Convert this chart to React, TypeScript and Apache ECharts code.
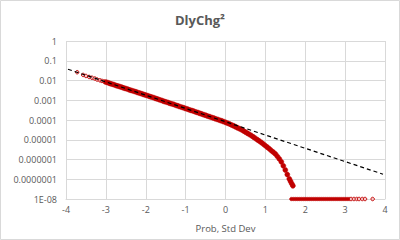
import React, { useEffect, useRef } from "react";
import * as echarts from "echarts";

const yTickLabels = ["1E-08", "0.0000001", "0.000001", "0.00001", "0.0001", "0.001", "0.01", "0.1", "1"];
const xTickLabels = ["-4", "-3", "-2", "-1", "0", "1", "2", "3", "4"];

// sparse tail points on the left (drawn as open markers)
const tailLeftX = [-3.72, -3.57, -3.5, -3.42, -3.35, -3.28, -3.22, -3.15, -3.1, -3.05];
const tailLeftY = [2.63e-2, 1.91e-2, 1.7e-2, 1.51e-2, 1.38e-2, 1.26e-2, 1.12e-2, 1.02e-2, 9.55e-3, 8.91e-3];

// dense body of the curve
const curveX = [
  -3.0, -2.95, -2.9, -2.85, -2.8, -2.75, -2.7, -2.65, -2.6, -2.55,
  -2.5, -2.45, -2.4, -2.35, -2.3, -2.25, -2.2, -2.15, -2.1, -2.05,
  -2.0, -1.95, -1.9, -1.85, -1.8, -1.75, -1.7, -1.65, -1.6, -1.55,
  -1.5, -1.45, -1.4, -1.35, -1.3, -1.25, -1.2, -1.15, -1.1, -1.05,
  -1.0, -0.95, -0.9, -0.85, -0.8, -0.75, -0.7, -0.65, -0.6, -0.55,
  -0.5, -0.45, -0.4, -0.35, -0.3, -0.25, -0.2, -0.15, -0.1, -0.05,
  0.0, 0.05, 0.1, 0.15, 0.2, 0.25, 0.3, 0.35, 0.4, 0.45,
  0.5, 0.55, 0.6, 0.65, 0.7, 0.75, 0.8, 0.85, 0.9, 0.95,
  1.0, 1.05, 1.1, 1.15, 1.2, 1.25, 1.3, 1.35, 1.4, 1.45,
  1.5, 1.55, 1.6, 1.63, 1.66, 1.69,
];
const curveY = [
  8.32e-3, 7.76e-3, 7.08e-3, 6.61e-3, 6.17e-3, 5.62e-3, 5.25e-3, 4.9e-3, 4.57e-3, 4.17e-3,
  3.89e-3, 3.63e-3, 3.31e-3, 3.09e-3, 2.88e-3, 2.69e-3, 2.45e-3, 2.29e-3, 2.14e-3, 1.95e-3,
  1.82e-3, 1.7e-3, 1.55e-3, 1.45e-3, 1.35e-3, 1.23e-3, 1.15e-3, 1.05e-3, 9.77e-4, 8.91e-4,
  8.32e-4, 7.76e-4, 7.08e-4, 6.61e-4, 6.17e-4, 5.62e-4, 5.25e-4, 4.79e-4, 4.47e-4, 4.17e-4,
  3.8e-4, 3.55e-4, 3.24e-4, 3.02e-4, 2.82e-4, 2.57e-4, 2.4e-4, 2.19e-4, 2.04e-4, 1.86e-4,
  1.74e-4, 1.58e-4, 1.48e-4, 1.35e-4, 1.26e-4, 1.15e-4, 1.07e-4, 9.77e-5, 9.12e-5, 8.32e-5,
  7.59e-5, 6.92e-5, 6.31e-5, 5.62e-5, 5.13e-5, 4.57e-5, 4.07e-5, 3.63e-5, 3.24e-5, 2.82e-5,
  2.45e-5, 2.14e-5, 1.86e-5, 1.62e-5, 1.38e-5, 1.17e-5, 1.0e-5, 8.51e-6, 7.24e-6, 6.03e-6,
  5.01e-6, 4.17e-6, 3.47e-6, 2.82e-6, 2.34e-6, 1.91e-6, 1.45e-6, 1.07e-6, 7.59e-7, 4.79e-7,
  2.95e-7, 1.74e-7, 1.05e-7, 7.94e-8, 6.03e-8, 4.68e-8,
];

// points sitting on the 1E-08 floor
const floorDenseX = [
  1.65, 1.7, 1.75, 1.8, 1.85, 1.9, 1.95, 2.0, 2.05, 2.1,
  2.15, 2.2, 2.25, 2.3, 2.35, 2.4, 2.45, 2.5, 2.55, 2.6,
  2.65, 2.7, 2.75, 2.8, 2.85, 2.9, 2.95, 3.0, 3.05, 3.1,
];
const floorSparseX = [3.15, 3.22, 3.29, 3.35, 3.43, 3.5, 3.69];
const floorValue = 1e-8;

const trendX = [-3.95, 3.95];
const trendY = [0.037, 1.8e-7];

const TEXT = "#595959";
const GRID = "#D9D9D9";
const RED = "#C00000";
const FONT = "'Open Sans', 'Noto Sans', sans-serif";

export default function App() {
  const ref = useRef<HTMLDivElement>(null);
  useEffect(() => {
    if (!ref.current) return;
    const chart = echarts.init(ref.current, undefined, { renderer: "svg" });
    const tailData = tailLeftX.map((x, i) => [x, tailLeftY[i]]);
    const curveData = curveX.map((x, i) => [x, curveY[i]]);
    const floorDenseData = floorDenseX.map((x) => [x, floorValue]);
    const floorSparseData = floorSparseX.map((x) => [x, floorValue]);
    const trendData = trendX.map((x, i) => [x, trendY[i]]);
    chart.setOption({
      animation: false,
      backgroundColor: "#ffffff",
      textStyle: { fontFamily: FONT },
      title: {
        text: "DlyChg²",
        left: "center",
        top: 8,
        textStyle: { color: TEXT, fontSize: 13, fontWeight: "bold", fontFamily: FONT },
      },
      graphic: [
        {
          type: "rect",
          shape: { x: 0.5, y: 0.5, width: 399, height: 239 },
          style: { fill: "none", stroke: GRID, lineWidth: 1 },
          silent: true,
        },
      ],
      grid: { left: 66, right: 15, top: 41, bottom: 41, containLabel: false },
      xAxis: {
        type: "value",
        min: -4,
        max: 4,
        interval: 1,
        name: "Prob, Std Dev",
        nameLocation: "middle",
        nameGap: 24,
        nameTextStyle: { color: TEXT, fontSize: 9.5, fontFamily: FONT },
        axisLine: { show: true, onZero: false, lineStyle: { color: GRID } },
        axisTick: { show: false },
        axisLabel: {
          color: TEXT,
          fontSize: 9,
          margin: 6,
          fontFamily: FONT,
          formatter: (v: number) => xTickLabels[Math.round(v) + 4] ?? String(v),
        },
        splitLine: { show: true, lineStyle: { color: GRID, width: 1 } },
      },
      yAxis: {
        type: "log",
        logBase: 10,
        min: 1e-8,
        max: 1,
        axisLine: { show: false },
        axisTick: { show: false },
        axisLabel: {
          color: TEXT,
          fontSize: 9,
          margin: 9,
          fontFamily: FONT,
          formatter: (v: number) => yTickLabels[Math.round(Math.log10(v)) + 8] ?? String(v),
        },
        splitLine: { show: true, lineStyle: { color: GRID, width: 1 } },
      },
      series: [
        {
          type: "scatter",
          data: tailData,
          symbol: "circle",
          symbolSize: 3.5,
          itemStyle: { color: "#F4C7C7", borderColor: RED, borderWidth: 0.9, opacity: 1 },
          z: 2,
        },
        {
          type: "scatter",
          data: curveData,
          symbol: "circle",
          symbolSize: 5,
          itemStyle: { color: RED, borderColor: RED, borderWidth: 0.5, opacity: 1 },
          z: 2,
        },
        {
          type: "scatter",
          data: floorDenseData,
          symbol: "circle",
          symbolSize: 3.5,
          itemStyle: { color: RED, borderColor: RED, borderWidth: 0.5, opacity: 1 },
          z: 2,
        },
        {
          type: "scatter",
          data: floorSparseData,
          symbol: "circle",
          symbolSize: 3.5,
          itemStyle: { color: "#F4C7C7", borderColor: RED, borderWidth: 0.9, opacity: 1 },
          z: 2,
        },
        {
          type: "line",
          data: trendData,
          symbol: "none",
          lineStyle: { color: "#000000", width: 1.2, type: [4, 3] },
          z: 3,
        },
      ],
    });
    return () => chart.dispose();
  }, []);
  return (
    <div
      ref={ref}
      style={{ position: "absolute", left: 0, top: 0, width: 400, height: 240 }}
    />
  );
}
